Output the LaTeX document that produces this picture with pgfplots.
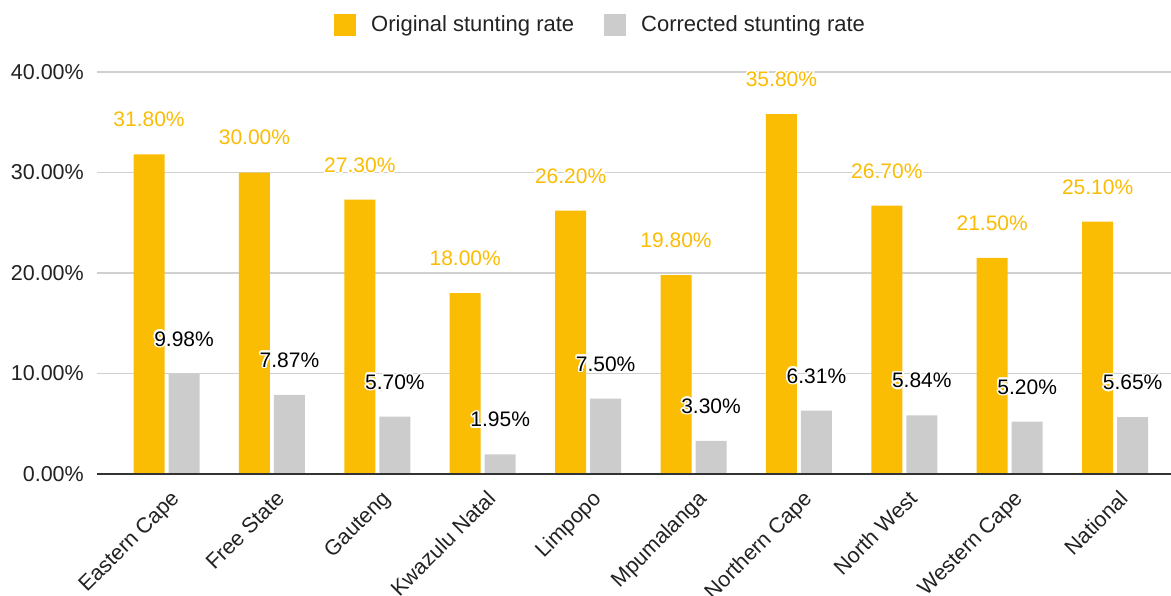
\documentclass[border=0pt]{standalone}
\usepackage{pgfplots}
\pgfplotsset{compat=1.18}
\usepackage{fontspec}
\setmainfont{Liberation Sans}
\usepackage[copies]{contour}
\contourlength{1.6bp}
\contournumber{16}
\definecolor{orig}{HTML}{FBBC04}
\definecolor{corr}{HTML}{CCCCCC}
\definecolor{txt}{HTML}{222222}
\definecolor{gridc}{HTML}{D0D0D0}
\begin{document}
\fontsize{21bp}{25bp}\selectfont
\begin{tikzpicture}
\pgfplotsset{
  mylegend/.style={legend image code/.code={\fill[##1] (0bp,-11bp) rectangle (22bp,11bp);}}
}
\begin{axis}[
  at={(0,0)}, anchor=south west,
  scale only axis, width=1074bp, height=402bp,
  xmin=-0.66, xmax=9.53, ymin=0, ymax=40,
  ybar=4bp, bar width=31bp,
  clip=false,
  xtick={0,...,9},
  xticklabels={Eastern Cape, Free State, Gauteng, Kwazulu Natal, Limpopo, Mpumalanga, Northern Cape, North West, Western Cape, National},
  xticklabel style={xshift=3bp, yshift=-15bp, rotate=45, anchor=north east, inner sep=0pt,
    font=\fontsize{21.5bp}{25bp}\selectfont},
  ytick={0,10,20,30,40},
  /pgf/number format/assume math mode=true,
  yticklabel={\pgfmathprintnumber[fixed,fixed zerofill,precision=2]{\tick}\%},
  yticklabel style={anchor=east, inner sep=0pt, xshift=-13bp, font=\fontsize{21.5bp}{25bp}\selectfont},
  every tick label/.append style={text=txt},
  major tick length=0pt,
  axis line style={draw=none},
  ymajorgrids, grid style={color=gridc, line width=1.2bp},
  nodes near coords={\contour{white}{\pgfmathprintnumber[fixed,fixed zerofill,precision=2]{\pgfplotspointmeta}\%}},
  every node near coord/.append style={anchor=center, yshift=34bp, inner sep=0pt},
  legend style={at={(0.468,1)}, anchor=center, yshift=47bp, draw=none, fill=none,
    legend columns=2, text=txt, font=\fontsize{22bp}{26bp}\selectfont,
    nodes={inner sep=0pt},
    /tikz/every odd column/.append style={column sep=15bp},
    /tikz/every even column/.append style={column sep=30bp}},
]
\addplot[fill=orig, draw=none, mylegend, every node near coord/.append style={text=orig}]
  coordinates {(0,31.8) (1,30.0) (2,27.3) (3,18.0) (4,26.2) (5,19.8) (6,35.8) (7,26.7) (8,21.5) (9,25.1)};
\addlegendentry{Original stunting rate}
\addplot[fill=corr, draw=none, mylegend, every node near coord/.append style={text=black}]
  coordinates {(0,9.98) (1,7.87) (2,5.70) (3,1.95) (4,7.50) (5,3.30) (6,6.31) (7,5.84) (8,5.20) (9,5.65)};
\addlegendentry{Corrected stunting rate}
\draw[color=black!80, line width=1.3bp] (axis cs:-0.66,0) -- (axis cs:9.53,0);
\end{axis}
\pgfresetboundingbox
\path[use as bounding box] (-97bp,-122bp) rectangle (1074bp,474bp);
\end{tikzpicture}
\end{document}
